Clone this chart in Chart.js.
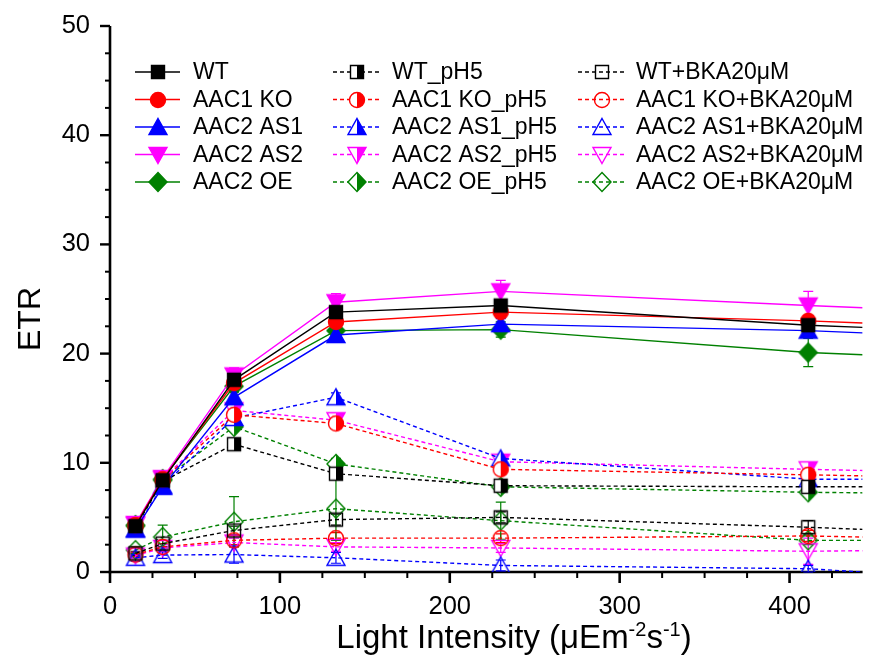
<!DOCTYPE html>
<html><head><meta charset="utf-8">
<script src="https://cdn.jsdelivr.net/npm/chart.js@4/dist/chart.umd.min.js"></script>
<style>html,body{margin:0;padding:0;background:#fff;overflow:hidden}</style>
</head><body>
<canvas id="c" width="871" height="655"></canvas>
<script>
// ---- data (last x = value read at the right edge of the cropped plot) ----
const lightIntensity = [15, 31, 73, 133, 230, 411, 443];

const seriesNames = [
  'WT', 'AAC1 KO', 'AAC2 AS1', 'AAC2 AS2', 'AAC2 OE',
  'WT_pH5', 'AAC1 KO_pH5', 'AAC2 AS1_pH5', 'AAC2 AS2_pH5', 'AAC2 OE_pH5',
  'WT+BKA20μM', 'AAC1 KO+BKA20μM', 'AAC2 AS1+BKA20μM', 'AAC2 AS2+BKA20μM', 'AAC2 OE+BKA20μM'
];

const wt      = [4.2, 8.4, 17.6, 23.8, 24.4, 22.6, 22.4];
const ko      = [4.3, 8.5, 17.3, 22.9, 23.8, 23.0, 22.8];
const as1     = [3.9, 7.8, 16.0, 21.7, 22.7, 22.1, 21.9];
const as2     = [4.4, 8.6, 18.0, 24.7, 25.7, 24.4, 24.2];
const oe      = [4.3, 8.5, 17.0, 22.1, 22.2, 20.1, 19.9];

const wtPH5   = [4.1, 8.3, 11.7, 9.0, 7.9, 7.8, 7.8];
const koPH5   = [4.2, 8.4, 14.4, 13.6, 9.4, 8.9, 8.8];
const as1PH5  = [3.9, 7.9, 14.1, 16.0, 10.4, 8.5, 8.5];
const as2PH5  = [4.3, 8.5, 14.8, 13.9, 10.1, 9.4, 9.3];
const oePH5   = [4.2, 8.4, 13.3, 9.9, 7.8, 7.3, 7.25];

const wtBKA   = [1.7, 2.6, 3.8, 4.8, 5.0, 4.1, 3.9];
const koBKA   = [1.6, 2.3, 2.9, 3.1, 3.1, 3.3, 3.2];
const as1BKA  = [1.3, 1.55, 1.6, 1.3, 0.6, 0.3, 0.0];
const as2BKA  = [1.5, 2.2, 2.7, 2.3, 2.2, 1.9, 1.95];
const oeBKA   = [2.0, 3.2, 4.6, 5.8, 4.7, 2.9, 2.9];

// standard deviations (error bars)
const wtErr     = [0.2, 0.3, 0.5, 0.4, 0.5, 0.5, 0];
const koErr     = [0.2, 0.3, 0.5, 0.5, 0.4, 0.5, 0];
const as1Err    = [0.2, 0.4, 0.5, 0.4, 0.5, 0.5, 0];
const as2Err    = [0.2, 0.3, 0.7, 0.8, 1.0, 1.3, 0];
const oeErr     = [0.2, 0.3, 0.5, 0.4, 0.7, 1.3, 0];
const wtPH5Err  = [0.2, 0.3, 0.4, 0.4, 0.3, 0.3, 0];
const koPH5Err  = [0.2, 0.3, 0.4, 0.4, 0.3, 0.3, 0];
const as1PH5Err = [0.2, 0.3, 0.4, 0.4, 0.3, 0.3, 0];
const as2PH5Err = [0.2, 0.3, 0.6, 0.5, 0.3, 0.4, 0];
const oePH5Err  = [0.2, 0.3, 0.4, 0.5, 0.3, 0.4, 0];
const wtBKAErr  = [0.2, 0.3, 0.4, 0.5, 0.5, 0.6, 0];
const koBKAErr  = [0.2, 0.3, 0.4, 0.5, 0.4, 0.5, 0];
const as1BKAErr = [0.3, 0.3, 0.8, 0.5, 0.5, 0.3, 0];
const as2BKAErr = [0.2, 0.3, 0.4, 0.4, 0.4, 1.2, 0];
const oeBKAErr  = [0.3, 1.1, 2.3, 2.9, 1.7, 0.4, 0];

const xMajorTicks = [0, 100, 200, 300, 400];
const xMinorStep = 25;
const yMajorTicks = [0, 10, 20, 30, 40, 50];
const yMinorStep = 2.5;

// ---- styles ----
const seriesValues = [wt, ko, as1, as2, oe, wtPH5, koPH5, as1PH5, as2PH5, oePH5, wtBKA, koBKA, as1BKA, as2BKA, oeBKA];
const seriesErrors = [wtErr, koErr, as1Err, as2Err, oeErr, wtPH5Err, koPH5Err, as1PH5Err, as2PH5Err, oePH5Err, wtBKAErr, koBKAErr, as1BKAErr, as2BKAErr, oeBKAErr];
const baseColors = ['#000000', '#ff0000', '#0000ff', '#ff00ff', '#008000'];
const shapes = ['square', 'circle', 'up', 'down', 'diamond'];
const fills = ['full', 'half', 'open'];
const FONT = '"Liberation Sans", Arial, Helvetica, sans-serif';

function shapePath(g, shape, cx, cy) {
  g.beginPath();
  if (shape === 'square') g.rect(cx - 6.5, cy - 6.5, 13, 13);
  else if (shape === 'circle') g.arc(cx, cy, 7.5, 0, Math.PI * 2);
  else if (shape === 'up') { g.moveTo(cx, cy - 8.5); g.lineTo(cx + 9, cy + 7.5); g.lineTo(cx - 9, cy + 7.5); g.closePath(); }
  else if (shape === 'down') { g.moveTo(cx, cy + 8.5); g.lineTo(cx + 9, cy - 7.5); g.lineTo(cx - 9, cy - 7.5); g.closePath(); }
  else if (shape === 'diamond') { g.moveTo(cx, cy - 9.5); g.lineTo(cx + 9, cy); g.lineTo(cx, cy + 9.5); g.lineTo(cx - 9, cy); g.closePath(); }
}
function makeMarker(shape, color, fill) {
  const c = document.createElement('canvas');
  c.width = 26; c.height = 26;
  const g = c.getContext('2d');
  const cx = 13, cy = 13;
  g.lineWidth = 1.4;
  g.strokeStyle = color;
  shapePath(g, shape, cx, cy);
  if (fill === 'full') {
    g.fillStyle = color; g.fill(); g.stroke();
  } else if (fill === 'half') {
    g.fillStyle = '#ffffff'; g.fill();
    g.save(); g.beginPath(); g.rect(cx, 0, 13, 26); g.clip();
    shapePath(g, shape, cx, cy); g.fillStyle = color; g.fill();
    g.restore();
    shapePath(g, shape, cx, cy); g.stroke();
  } else {
    g.stroke();
  }
  return c;
}

const datasets = seriesValues.map((vals, i) => {
  const grp = Math.floor(i / 5), k = i % 5;
  const color = baseColors[k];
  return {
    label: seriesNames[i],
    data: vals.map((v, j) => ({ x: lightIntensity[j], y: v })),
    err: seriesErrors[i],
    borderColor: color,
    backgroundColor: color,
    borderWidth: 1.4,
    borderDash: grp === 0 ? [] : [4, 3],
    pointStyle: makeMarker(shapes[k], color, fills[grp]),
    pointRadius: vals.map((v, j) => j === vals.length - 1 ? 0 : 7),
    pointHoverRadius: 0,
    tension: 0,
    fill: false
  };
});

const customPlugin = {
  id: 'customDraw',
  beforeDatasetsDraw(chart) {
    const ctx = chart.ctx, xs = chart.scales.x, ys = chart.scales.y, a = chart.chartArea;
    ctx.save();
    // axes
    ctx.strokeStyle = '#000'; ctx.lineWidth = 2.6; ctx.lineCap = 'butt';
    ctx.beginPath(); ctx.moveTo(a.left, a.top); ctx.lineTo(a.left, a.bottom + 1.3); ctx.stroke();
    ctx.beginPath(); ctx.moveTo(a.left - 1.3, a.bottom); ctx.lineTo(a.right, a.bottom); ctx.stroke();
    // y ticks
    for (let v = ys.min; v <= ys.max + 1e-9; v += yMinorStep) {
      const major = yMajorTicks.includes(Math.round(v * 10) / 10);
      const y = ys.getPixelForValue(v);
      ctx.lineWidth = major ? 2.4 : 2;
      ctx.beginPath(); ctx.moveTo(a.left, y); ctx.lineTo(a.left - (major ? 10 : 5), y); ctx.stroke();
    }
    // x ticks
    for (let v = 0; v <= xs.max; v += xMinorStep) {
      const major = xMajorTicks.includes(v);
      const x = xs.getPixelForValue(v);
      ctx.lineWidth = major ? 2.6 : 2;
      ctx.beginPath(); ctx.moveTo(x, a.bottom); ctx.lineTo(x, a.bottom + (major ? 11 : 6)); ctx.stroke();
    }
    // error bars
    chart.data.datasets.forEach((ds, i) => {
      const meta = chart.getDatasetMeta(i);
      ctx.strokeStyle = ds.borderColor; ctx.lineWidth = 1.2; ctx.setLineDash([]);
      meta.data.forEach((pt, j) => {
        const e = ds.err[j];
        if (!e || j === ds.data.length - 1) return;
        const v = ds.data[j].y;
        const yT = ys.getPixelForValue(v + e), yB = ys.getPixelForValue(Math.max(v - e, -0.3));
        ctx.beginPath();
        ctx.moveTo(pt.x, yT); ctx.lineTo(pt.x, yB);
        ctx.moveTo(pt.x - 5, yT); ctx.lineTo(pt.x + 5, yT);
        ctx.moveTo(pt.x - 5, yB); ctx.lineTo(pt.x + 5, yB);
        ctx.stroke();
      });
    });
    ctx.restore();
  },
  afterDraw(chart) {
    const ctx = chart.ctx;
    ctx.save();
    // legend
    const colLineStart = [135, 333, 578];
    const colLineEnd = [180, 380, 625];
    const colText = [193, 392, 636];
    ctx.font = '23px ' + FONT;
    ctx.textBaseline = 'middle';
    ctx.textAlign = 'left';
    chart.data.datasets.forEach((ds, i) => {
      const col = Math.floor(i / 5), row = i % 5;
      const y = 72 + row * 27.5;
      ctx.strokeStyle = ds.borderColor; ctx.lineWidth = 1.4;
      ctx.setLineDash(ds.borderDash);
      ctx.beginPath(); ctx.moveTo(colLineStart[col], y); ctx.lineTo(colLineEnd[col], y); ctx.stroke();
      ctx.setLineDash([]);
      const img = ds.pointStyle;
      const cx = (colLineStart[col] + colLineEnd[col]) / 2;
      ctx.drawImage(img, Math.round(cx - img.width / 2), Math.round(y - img.height / 2));
      ctx.fillStyle = '#000';
      ctx.fillText(ds.label, colText[col], y + 1);
    });
    // y title
    ctx.save();
    ctx.translate(40, 319);
    ctx.rotate(-Math.PI / 2);
    ctx.font = '32px ' + FONT;
    ctx.textAlign = 'center'; ctx.textBaseline = 'alphabetic';
    ctx.fillText('ETR', 0, 0);
    ctx.restore();
    // x title with superscripts
    const parts = [
      ['Light Intensity (μEm', 33, 0], ['-2', 20, -12], ['s', 33, 0], ['-1', 20, -12], [')', 33, 0]
    ];
    let total = 0;
    parts.forEach(p => { ctx.font = p[1] + 'px ' + FONT; total += ctx.measureText(p[0]).width; });
    let x = 514 - total / 2;
    ctx.textAlign = 'left'; ctx.textBaseline = 'alphabetic';
    parts.forEach(p => {
      ctx.font = p[1] + 'px ' + FONT;
      ctx.fillText(p[0], x, 648 + p[2]);
      x += ctx.measureText(p[0]).width;
    });
    ctx.restore();
  }
};

new Chart(document.getElementById('c'), {
  type: 'line',
  data: { datasets },
  options: {
    responsive: false,
    animation: false,
    layout: { padding: { top: 26, right: 0, left: 0, bottom: 0 } },
    plugins: { legend: { display: false }, tooltip: { enabled: false } },
    events: [],
    scales: {
      x: {
        type: 'linear', min: 0, max: lightIntensity[lightIntensity.length - 1],
        grid: { display: false, drawTicks: false },
        border: { display: false },
        afterBuildTicks: (s) => { s.ticks = xMajorTicks.map(v => ({ value: v })); },
        afterFit: (s) => { s.height = 83; s.paddingLeft = 0; s.paddingRight = 0; },
        ticks: { color: '#000', font: { family: FONT, size: 25.5 }, padding: 20, maxRotation: 0, autoSkip: false }
      },
      y: {
        type: 'linear', min: 0, max: 50,
        grid: { display: false, drawTicks: false },
        border: { display: false },
        afterBuildTicks: (s) => { s.ticks = yMajorTicks.map(v => ({ value: v })); },
        afterFit: (s) => { s.width = 110; s.paddingTop = 0; s.paddingBottom = 0; },
        ticks: { color: '#000', font: { family: FONT, size: 25.5 }, padding: 20 }
      }
    }
  },
  plugins: [customPlugin]
});
</script>
</body></html>
